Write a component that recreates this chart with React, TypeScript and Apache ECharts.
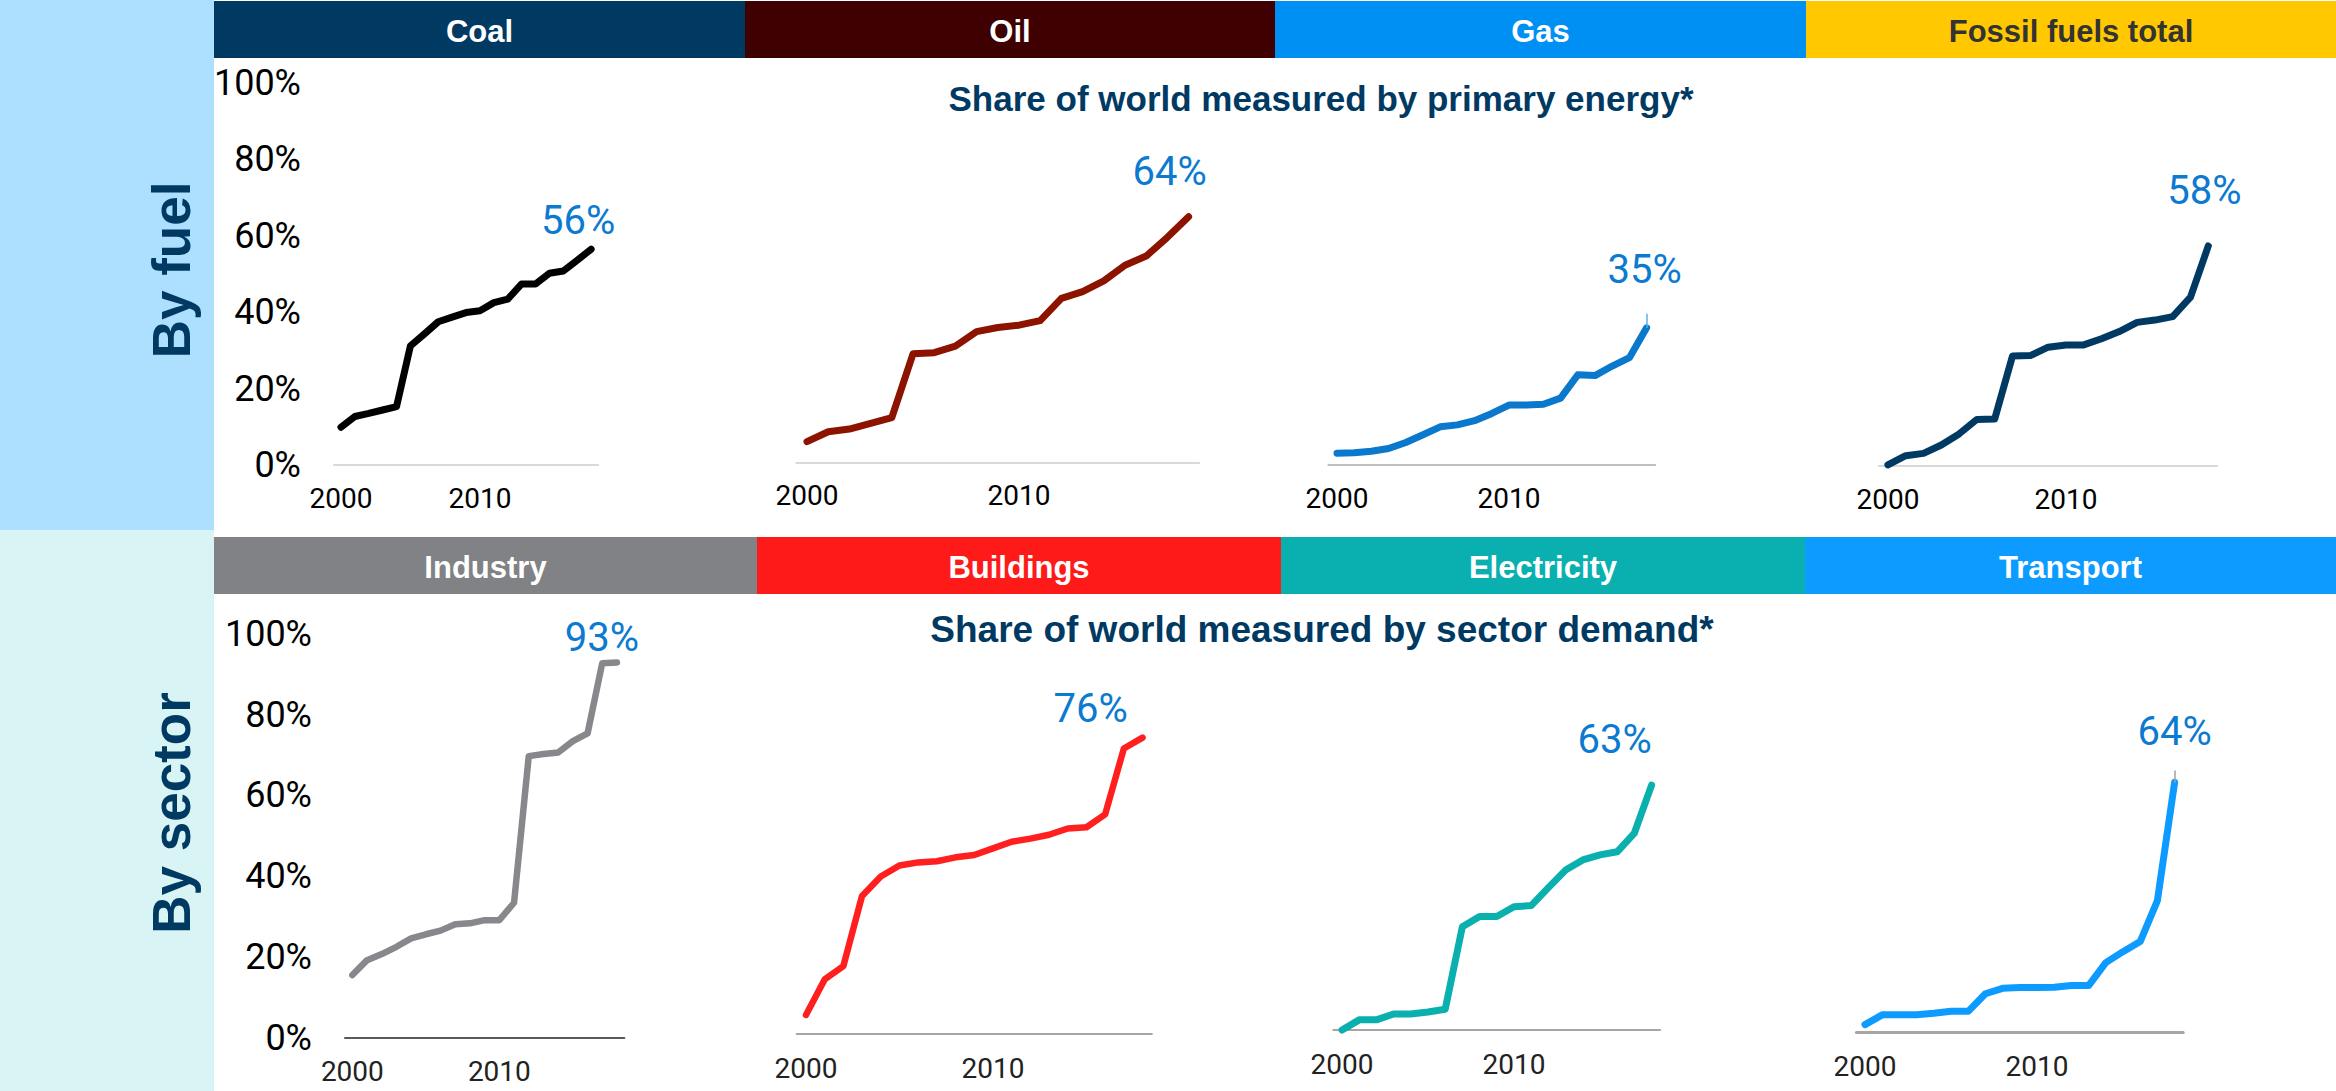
import React, { useEffect, useRef } from "react";
import * as echarts from "echarts";

// ---------- data ----------
const years = [
  "2000", "2001", "2002", "2003", "2004", "2005", "2006", "2007", "2008", "2009",
  "2010", "2011", "2012", "2013", "2014", "2015", "2016", "2017", "2018",
];
const shownYears = ["2000", "2010"];

const coal = [9.9, 12.7, 13.5, 14.4, 15.3, 31.2, 34.3, 37.5, 38.7, 39.9, 40.4, 42.5, 43.4, 47.4, 47.4, 50.2, 50.8, 53.6, 56.5];
const oil = [5.5, 8.1, 8.8, 10.3, 11.8, 28.5, 28.8, 30.5, 34.3, 35.4, 36.0, 37.2, 43.0, 44.8, 47.6, 51.7, 54.1, 59.0, 64.4];
const gas = [3.1, 3.2, 3.6, 4.3, 5.9, 7.9, 10.0, 10.5, 11.6, 13.5, 15.7, 15.7, 15.9, 17.5, 23.6, 23.4, 25.9, 28.1, 35.9];
const fossil = [0.3, 2.7, 3.3, 5.5, 8.4, 12.2, 12.3, 28.8, 28.9, 31.1, 31.7, 31.7, 33.3, 35.2, 37.6, 38.2, 39.1, 44.2, 57.6];
const industry = [15.5, 19.2, 20.7, 22.5, 24.6, 25.6, 26.5, 28.1, 28.3, 29.1, 29.1, 33.4, 69.7, 70.2, 70.6, 73.4, 75.3, 92.7, 92.9];
const buildings = [4.9, 14.0, 17.4, 35.4, 40.4, 43.2, 44.0, 44.3, 45.3, 45.9, 47.6, 49.3, 50.1, 51.1, 52.7, 53.0, 56.3, 73.2, 76.0];
const electricity = [0, 2.6, 2.6, 4.1, 4.1, 4.6, 5.3, 26.5, 29.1, 29.1, 31.6, 31.9, 36.5, 41.0, 43.6, 44.9, 45.7, 50.5, 62.8];
const transport = [1.9, 4.4, 4.4, 4.4, 4.8, 5.3, 5.3, 9.8, 11.2, 11.4, 11.4, 11.5, 11.9, 11.9, 17.8, 20.6, 23.2, 33.7, 64.0];

const panelTitles = ["Coal", "Oil", "Gas", "Fossil fuels total", "Industry", "Buildings", "Electricity", "Transport"];
const endLabels = ["56%", "64%", "35%", "58%", "93%", "76%", "63%", "64%"];
const rowLabels = ["By fuel", "By sector"];
const subtitles = [
  "Share of world measured by primary energy*",
  "Share of world measured by sector demand*",
];
const seriesData = [coal, oil, gas, fossil, industry, buildings, electricity, transport];

// ---------- layout / style ----------
const panels = [
  { line: "#000000", head: "#003A63", headText: "#FFFFFF", hx: 214, hw: 531, row: 0, left: 334, width: 264.1, axisY: 465, pxH: 382, axisColor: "#D9D9D9", axisW: 2, off: [-13, -28.5], showY: true, lw: 7 },
  { line: "#8B1300", head: "#3E0000", headText: "#FFFFFF", hx: 745, hw: 530, row: 0, left: 796.4, width: 402.8, axisY: 462.7, pxH: 382, axisColor: "#D9D9D9", axisW: 2, off: [-19, -45], showY: false, lw: 7 },
  { line: "#0A78CC", head: "#008FF2", headText: "#FFFFFF", hx: 1275, hw: 531, row: 0, left: 1328.4, width: 326.8, axisY: 465, pxH: 382, axisColor: "#BFBFBF", axisW: 2, off: [-2, -58], showY: false, lw: 7, leader: { color: "#5AB0F0", px: 14 } },
  { line: "#003A63", head: "#FFC800", headText: "#333333", hx: 1806, hw: 530, row: 0, left: 1879, width: 338.2, axisY: 466, pxH: 382, axisColor: "#D9D9D9", axisW: 2, off: [-4, -55], showY: false, lw: 7 },
  { line: "#87888C", head: "#808285", headText: "#FFFFFF", hx: 214, hw: 543, row: 1, left: 345, width: 279.3, axisY: 1037.7, pxH: 404, axisColor: "#595959", axisW: 2, off: [-15, -25], showY: true, lw: 6.5 },
  { line: "#FF1F1F", head: "#FF1A1A", headText: "#FFFFFF", hx: 757, hw: 524, row: 1, left: 796.6, width: 355.3, axisY: 1034, pxH: 390, axisColor: "#A6A6A6", axisW: 2, off: [-52, -29], showY: false, lw: 6.5 },
  { line: "#0AB0AD", head: "#0AAFAF", headText: "#FFFFFF", hx: 1281, hw: 524, row: 1, left: 1333.4, width: 326.8, axisY: 1030, pxH: 390, axisColor: "#A6A6A6", axisW: 2, off: [-37, -45.5], showY: false, lw: 7 },
  { line: "#0D9BFF", head: "#0D9BFF", headText: "#FFFFFF", hx: 1805, hw: 531, row: 1, left: 1856.4, width: 326.8, axisY: 1032, pxH: 390, axisColor: "#A6A6A6", axisW: 3, off: [0, -51], showY: false, lw: 7, leader: { color: "#A0A0A0", px: 12 } },
];

const headerRows = [
  { y: 1, h: 57, textY: 31 },
  { y: 537, h: 57, textY: 567 },
];

const HEAD_FONT = 'bold 31px "Liberation Sans", Arial, sans-serif';
const NUM_FONT = "Roboto, 'Noto Sans', sans-serif";

function buildOption() {
  const grid: any[] = [];
  const xAxis: any[] = [];
  const yAxis: any[] = [];
  const series: any[] = [];
  const graphic: any[] = [];

  graphic.push({ type: "rect", z: 0, shape: { x: 0, y: 0, width: 214, height: 530 }, style: { fill: "#ADDFFF" } });
  graphic.push({ type: "rect", z: 0, shape: { x: 0, y: 530, width: 214, height: 561 }, style: { fill: "#D9F4F4" } });

  rowLabels.forEach((t, r) => {
    graphic.push({
      type: "text",
      x: 171,
      y: r === 0 ? 270 : 813,
      rotation: Math.PI / 2,
      style: {
        text: t,
        fill: "#003A63",
        font: 'bold 53px "Liberation Sans", Arial, sans-serif',
        textAlign: "center",
        textVerticalAlign: "middle",
        align: "center",
        verticalAlign: "middle",
      },
    });
  });

  subtitles.forEach((t, r) => {
    graphic.push({
      type: "text",
      x: r === 0 ? 1321 : 1322,
      y: r === 0 ? 98 : 629,
      style: {
        text: t,
        fill: "#003A63",
        font: `bold ${r === 0 ? 35 : 37}px "Liberation Sans", Arial, sans-serif`,
        textAlign: "center",
        textVerticalAlign: "middle",
        align: "center",
        verticalAlign: "middle",
      },
    });
  });

  panels.forEach((p, i) => {
    const hr = headerRows[p.row];
    graphic.push({ type: "rect", shape: { x: p.hx, y: hr.y, width: p.hw, height: hr.h }, style: { fill: p.head } });
    graphic.push({
      type: "text",
      x: p.hx + p.hw / 2,
      y: hr.textY,
      style: {
        text: panelTitles[i],
        fill: p.headText,
        font: HEAD_FONT,
        textAlign: "center",
        textVerticalAlign: "middle",
        align: "center",
        verticalAlign: "middle",
      },
    });

    grid.push({
      left: p.left,
      top: p.axisY - p.pxH,
      width: p.width,
      height: p.pxH,
      containLabel: false,
      outerBoundsMode: "none",
    });

    xAxis.push({
      gridIndex: i,
      type: "category",
      data: years,
      boundaryGap: true,
      axisTick: { show: false },
      axisLine: { show: true, lineStyle: { color: p.axisColor, width: p.axisW } },
      splitLine: { show: false },
      axisLabel: {
        interval: (idx: number, val: string) => shownYears.indexOf(val) >= 0,
        hideOverlap: false,
        fontSize: 28,
        fontFamily: NUM_FONT,
        color: p.row === 0 ? "#000000" : "#222222",
        margin: p.row === 0 ? 19 : 20,
      },
    });

    yAxis.push({
      gridIndex: i,
      type: "value",
      min: 0,
      max: 100,
      interval: 20,
      axisLine: { show: false },
      axisTick: { show: false },
      splitLine: { show: false },
      axisLabel: {
        show: p.showY,
        formatter: "{value}%",
        fontSize: 36,
        fontFamily: NUM_FONT,
        color: "#000000",
        margin: 33,
      },
    });

    const data = seriesData[i];
    const last = data[data.length - 1];
    const s: any = {
      type: "line",
      name: panelTitles[i],
      xAxisIndex: i,
      yAxisIndex: i,
      data,
      showSymbol: false,
      symbol: "none",
      clip: false,
      silent: true,
      lineStyle: { color: p.line, width: p.lw, cap: "round", join: "round" },
      itemStyle: { color: p.line },
      markPoint: {
        silent: true,
        symbol: "circle",
        symbolSize: 0,
        itemStyle: { color: "rgba(0,0,0,0)" },
        label: {
          show: true,
          position: "inside",
          offset: p.off,
          formatter: () => endLabels[i],
          color: "#0B7AD0",
          fontSize: 40,
          fontFamily: NUM_FONT,
        },
        data: [{ coord: [years[years.length - 1], last], value: last }],
      },
    };
    if (p.leader) {
      const dv = (p.leader.px / p.pxH) * 100;
      s.markLine = {
        silent: true,
        symbol: ["none", "none"],
        label: { show: false },
        lineStyle: { color: p.leader.color, width: 1.5, type: "solid" },
        data: [[{ coord: [years[years.length - 1], last] }, { coord: [years[years.length - 1], last + dv] }]],
      };
    }
    series.push(s);
  });

  return {
    animation: false,
    backgroundColor: "#FFFFFF",
    grid,
    xAxis,
    yAxis,
    series,
    graphic: { elements: graphic },
  };
}

export default function App() {
  const ref = useRef<HTMLDivElement>(null);
  useEffect(() => {
    document.body.style.margin = "0";
    document.body.style.overflow = "hidden";
    if (!ref.current) return;
    const chart = echarts.init(ref.current, undefined, { renderer: "svg" });
    chart.setOption(buildOption() as any);
    return () => chart.dispose();
  }, []);
  return (
    <div
      ref={ref}
      style={{ position: "absolute", left: 0, top: 0, width: 2336, height: 1091, background: "#FFFFFF" }}
    />
  );
}
